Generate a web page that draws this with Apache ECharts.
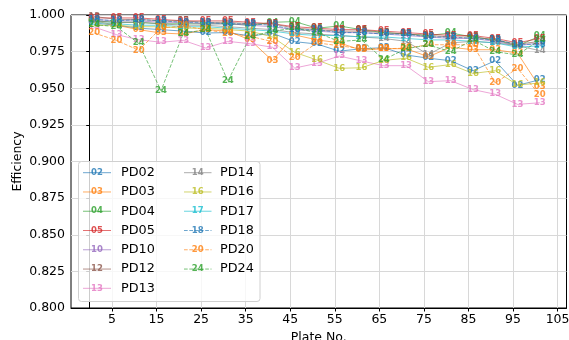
<!DOCTYPE html>
<html><head><meta charset="utf-8">
<script src="https://cdn.jsdelivr.net/npm/echarts@6/dist/echarts.min.js"></script>
<style>html,body{margin:0;padding:0;background:#fff}#c{width:569px;height:340px}</style>
</head><body><div id="c"></div>
<script>
var plates = [1,6,11,16,21,26,31,36,41,46,51,56,61,66,71,76,81,86,91,96,101];
var xTicks = [5,15,25,35,45,55,65,75,85,95,105];
var codes = ['02','03','04','05','10','12','13','14','16','17','18','20','24'];
var colors = ['#1f77b4','#ff7f0e','#2ca02c','#d62728','#9467bd','#8c564b','#e377c2','#7f7f7f','#bcbd22','#17becf','#1f77b4','#ff7f0e','#2ca02c'];
var dashed = ['18','20','24'];
var PD02 = [0.9945,0.993,0.991,0.990,0.989,0.9877,0.988,0.9857,0.9875,0.9818,0.9802,0.9753,0.977,0.9777,0.9727,0.9705,0.9688,0.962,0.9688,0.952,0.9558];
var PD03 = [0.996,0.993,0.990,0.9877,0.987,0.990,0.989,0.983,0.9688,0.9864,0.983,0.981,0.976,0.977,0.977,0.9715,0.978,0.9763,0.9763,0.974,0.9507];
var PD04 = [0.996,0.995,0.995,0.994,0.994,0.994,0.994,0.993,0.995,0.9955,0.991,0.9925,0.990,0.988,0.987,0.986,0.9877,0.985,0.983,0.979,0.9855];
var PD05 = [0.998,0.998,0.998,0.997,0.996,0.996,0.996,0.995,0.994,0.992,0.991,0.990,0.990,0.989,0.988,0.987,0.986,0.986,0.984,0.981,0.984];
var PD10 = [0.997,0.996,0.996,0.995,0.995,0.994,0.994,0.993,0.992,0.990,0.989,0.988,0.988,0.987,0.986,0.985,0.984,0.984,0.982,0.979,0.981];
var PD12 = [0.999,0.997,0.997,0.996,0.996,0.995,0.995,0.994,0.994,0.991,0.990,0.989,0.989,0.988,0.987,0.986,0.985,0.985,0.983,0.980,0.982];
var PD13 = [0.9918,0.9866,0.9831,0.9814,0.9827,0.9775,0.9820,0.9804,0.9780,0.9638,0.9670,0.9720,0.9686,0.9654,0.9654,0.9545,0.9552,0.9491,0.9459,0.9390,0.9401];
var PD14 = [0.996,0.995,0.995,0.994,0.993,0.993,0.992,0.991,0.990,0.988,0.987,0.986,0.985,0.984,0.982,0.973,0.981,0.982,0.981,0.979,0.9757];
var PD16 = [0.993,0.993,0.992,0.992,0.991,0.991,0.990,0.989,0.985,0.9745,0.9693,0.9636,0.9640,0.969,0.9705,0.9643,0.9662,0.9601,0.9620,0.9522,0.9536];
var PD17 = [0.995,0.994,0.993,0.993,0.992,0.992,0.991,0.990,0.989,0.987,0.986,0.986,0.985,0.985,0.984,0.983,0.983,0.982,0.981,0.978,0.979];
var PD18 = [0.997,0.996,0.997,0.996,0.995,0.995,0.994,0.994,0.993,0.990,0.990,0.988,0.988,0.987,0.987,0.985,0.985,0.984,0.983,0.980,0.980];
var PD20 = [0.9877,0.9827,0.9759,0.9911,0.9925,0.990,0.9875,0.9855,0.9818,0.9705,0.981,0.979,0.977,0.977,0.9773,0.9797,0.9797,0.9797,0.9536,0.9636,0.9454];
var PD24 = [0.9935,0.992,0.9807,0.9483,0.9875,0.990,0.9549,0.9852,0.989,0.991,0.988,0.9819,0.983,0.9695,0.977,0.9795,0.975,0.983,0.975,0.9727,0.983];
var values = [PD02,PD03,PD04,PD05,PD10,PD12,PD13,PD14,PD16,PD17,PD18,PD20,PD24];

var FONT = 'DejaVu Sans';
function hexA(h, a){var r=parseInt(h.substr(1,2),16),g=parseInt(h.substr(3,2),16),b=parseInt(h.substr(5,2),16);return 'rgba('+r+','+g+','+b+','+a+')';}

var series = codes.map(function(c, i){
  var isD = dashed.indexOf(c) >= 0;
  return {
    name: 'PD' + c, type: 'line',
    data: plates.map(function(x, j){ return [x, values[i][j]]; }),
    symbol: 'circle', symbolSize: 1, showAllSymbol: true,
    itemStyle: {color: 'rgba(0,0,0,0)'},
    lineStyle: {color: hexA(colors[i], 0.65), width: 1, type: isD ? [3.7, 1.6] : 'solid'},
    label: {show: true, position: 'inside', formatter: c, fontSize: 8.5, fontWeight: 'bold', fontFamily: FONT, color: hexA(colors[i], 0.8)},
    labelLayout: {hideOverlap: false},
    emphasis: {disabled: true},
    silent: true
  };
});

var gfx = [];
gfx.push({type: 'rect', shape: {x: 78.5, y: 161.5, width: 181.5, height: 140, r: 3},
  style: {fill: 'rgba(255,255,255,0.8)', stroke: '#d0d0d0', lineWidth: 1}, z: 100});
codes.forEach(function(c, i){
  var col = i < 7 ? 0 : 1, row = i < 7 ? i : i - 7;
  var y = 172.7 + row * 19.27;
  var x0 = col ? 184 : 83, x1 = col ? 211.5 : 111, tx = col ? 220 : 121;
  var isD = dashed.indexOf(c) >= 0;
  gfx.push({type: 'line', shape: {x1: x0, y1: y, x2: x1, y2: y}, z: 101,
    style: {stroke: hexA(colors[i], 0.65), lineWidth: 1, lineDash: isD ? [3.7, 1.6] : null}});
  gfx.push({type: 'text', x: (x0 + x1) / 2, y: y, z: 102,
    style: {text: c, fill: hexA(colors[i], 0.8), font: 'bold 8.5px "DejaVu Sans"', align: 'center', verticalAlign: 'middle'}});
  gfx.push({type: 'text', x: tx, y: y, z: 102,
    style: {text: 'PD' + c, fill: '#000', font: '12.8px "DejaVu Sans"', align: 'left', verticalAlign: 'middle'}});
});

var chart = echarts.init(document.getElementById('c'));
chart.setOption({
  animation: false,
  backgroundColor: '#fff',
  grid: {left: 71, right: 2.5, top: 15, bottom: 32, outerBoundsMode: 'none', containLabel: false, show: true, borderColor: '#000', borderWidth: 1, backgroundColor: 'transparent'},
  xAxis: {
    type: 'value', min: -4.2, max: 107,
    name: 'Plate No.', nameLocation: 'middle', nameGap: 23, nameMoveOverlap: false,
    nameTextStyle: {fontFamily: FONT, fontSize: 12.5, color: '#000', verticalAlign: 'top'},
    axisLine: {show: true, lineStyle: {color: '#000', width: 1}},
    axisTick: {show: true, length: 3.5, lineStyle: {color: '#000'}, customValues: xTicks},
    axisLabel: {customValues: xTicks, fontFamily: FONT, fontSize: 12.5, color: '#000', margin: 5},
    splitLine: {show: true, lineStyle: {color: '#d8d8d8', width: 1}}
  },
  yAxis: {
    type: 'value', min: 0.8, max: 1.0, interval: 0.025,
    name: 'Efficiency', nameLocation: 'middle', nameGap: 47, nameMoveOverlap: false,
    nameTextStyle: {fontFamily: FONT, fontSize: 12.5, color: '#000'},
    axisLine: {show: true, lineStyle: {color: '#000', width: 1}},
    axisTick: {show: true, length: 3.5, lineStyle: {color: '#000'}},
    axisLabel: {fontFamily: FONT, fontSize: 12.5, color: '#000', margin: 6, formatter: function(v){ return v.toFixed(3); }},
    splitLine: {show: true, lineStyle: {color: '#d8d8d8', width: 1}}
  },
  series: series,
  graphic: gfx
});
</script></body></html>
